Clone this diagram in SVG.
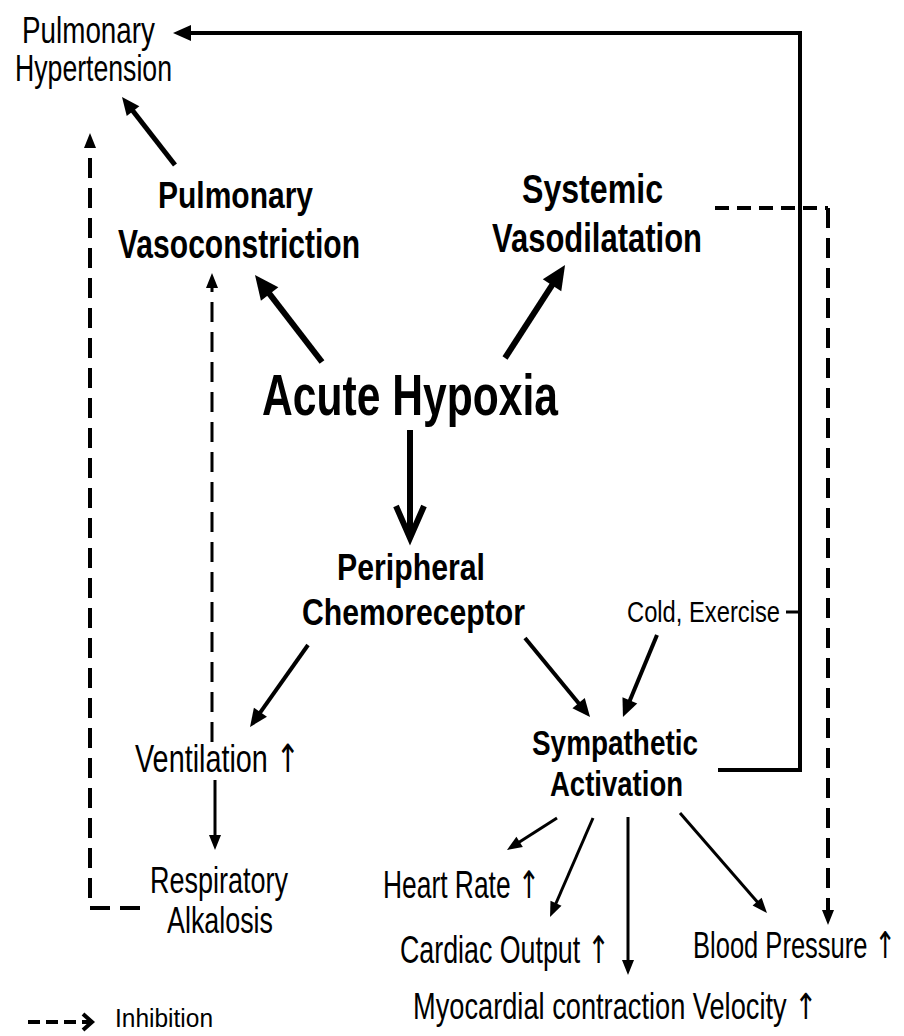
<svg xmlns="http://www.w3.org/2000/svg" width="904" height="1036" viewBox="0 0 904 1036">
<style>
text{font-family:"Liberation Sans",Arial,sans-serif;fill:#000}
.b{font-weight:bold}
.n{font-weight:normal}
.up{font-family:"DejaVu Sans",sans-serif;font-weight:normal;fill:#000}
.ln{fill:none;stroke:#000;stroke-linecap:butt;stroke-linejoin:miter}
.t6{stroke-width:6}
.t5{stroke-width:5}
.t4{stroke-width:4}
.t3{stroke-width:3}
.d{stroke-dasharray:20 10}
.dh{stroke-dasharray:14 8}
</style>
<defs>
<marker id="big" markerUnits="userSpaceOnUse" viewBox="0 0 24 22" markerWidth="24" markerHeight="22" refX="4" refY="11" orient="auto" overflow="visible"><path d="M0,0 L24,11 L0,22 z" fill="#000"/></marker>
<marker id="med" markerUnits="userSpaceOnUse" viewBox="0 0 18 16" markerWidth="18" markerHeight="16" refX="3" refY="8" orient="auto" overflow="visible"><path d="M0,0 L18,8 L0,16 z" fill="#000"/></marker>
<marker id="sm" markerUnits="userSpaceOnUse" viewBox="0 0 15 12" markerWidth="15" markerHeight="12" refX="3" refY="6" orient="auto" overflow="visible"><path d="M0,0 L15,6 L0,12 z" fill="#000"/></marker>
<marker id="chev" markerUnits="userSpaceOnUse" viewBox="0 0 36 32" markerWidth="36" markerHeight="32" refX="34" refY="16" orient="auto" overflow="visible"><path d="M2,2 L34,16 L2,30" fill="none" stroke="#000" stroke-width="6"/></marker>
<marker id="chevs" markerUnits="userSpaceOnUse" viewBox="0 0 12 18" markerWidth="12" markerHeight="18" refX="10" refY="9" orient="auto" overflow="visible"><path d="M1,1 L10,9 L1,17" fill="none" stroke="#000" stroke-width="4"/></marker>
</defs>
<rect width="904" height="1036" fill="#fff"/>

<g id="connectors">
  <path class="ln t6" d="M322,362 L267.2,290.8" marker-end="url(#big)"/>
  <path class="ln t6" d="M505,358 L554.2,281.8" marker-end="url(#big)"/>
  <path class="ln t6" d="M410,430 L410,538" marker-end="url(#chev)"/>
  <path class="ln t5" d="M175,165 L131.2,108.8" marker-end="url(#med)"/>
  <path class="ln t4" d="M308,645 L258.7,714.7" marker-end="url(#med)"/>
  <path class="ln t4" d="M525,638 L580.5,705.4" marker-end="url(#med)"/>
  <path class="ln t4" d="M657,635 L628.7,703.2" marker-end="url(#med)"/>
  <path class="ln t3" d="M215,780 L215,838" marker-end="url(#sm)"/>
  <path class="ln t3" d="M557,818 L517.1,843.5" marker-end="url(#sm)"/>
  <path class="ln t3" d="M593,818 L554.8,906" marker-end="url(#sm)"/>
  <path class="ln t3" d="M628,817 L628,963" marker-end="url(#sm)"/>
  <path class="ln t3" d="M680,813 L759.1,903.9" marker-end="url(#sm)"/>
  <path class="ln t4" d="M718,770 L800,770 L800,33 L188,33" marker-end="url(#med)"/>
  <path class="ln t3" d="M786,612 L800,612"/>
  <path class="ln t4 dh" d="M715,208 L828,208"/>
  <path class="ln t4 d" d="M828,208 L828,913" marker-end="url(#sm)"/>
  <path class="ln t4 d" d="M140,908 L90,908 L90,145" marker-end="url(#sm)"/>
  <path class="ln t3 d" d="M212,742 L212,285" marker-end="url(#sm)"/>
</g>

<g id="pulmonary-hypertension">
  <text class="n" x="22" y="43" font-size="36" textLength="133" lengthAdjust="spacingAndGlyphs">Pulmonary</text>
  <text class="n" x="15" y="81" font-size="36" textLength="157" lengthAdjust="spacingAndGlyphs">Hypertension</text>
</g>
<g id="pulmonary-vasoconstriction">
  <text class="b" x="158" y="208" font-size="37" textLength="155" lengthAdjust="spacingAndGlyphs">Pulmonary</text>
  <text class="b" x="118" y="258" font-size="40" textLength="242" lengthAdjust="spacingAndGlyphs">Vasoconstriction</text>
</g>
<g id="systemic-vasodilatation">
  <text class="b" x="522" y="203" font-size="40" textLength="141" lengthAdjust="spacingAndGlyphs">Systemic</text>
  <text class="b" x="492" y="252" font-size="40" textLength="210" lengthAdjust="spacingAndGlyphs">Vasodilatation</text>
</g>
<g id="acute-hypoxia">
  <text class="b" x="262" y="415" font-size="58" textLength="296" lengthAdjust="spacingAndGlyphs">Acute Hypoxia</text>
</g>
<g id="peripheral-chemoreceptor">
  <text class="b" x="337" y="580" font-size="37" textLength="148" lengthAdjust="spacingAndGlyphs">Peripheral</text>
  <text class="b" x="302" y="625" font-size="37" textLength="223" lengthAdjust="spacingAndGlyphs">Chemoreceptor</text>
</g>
<g id="cold-exercise">
  <text class="n" x="627" y="622" font-size="30" textLength="153" lengthAdjust="spacingAndGlyphs">Cold, Exercise</text>
</g>
<g id="ventilation">
  <text class="n" x="135" y="772" font-size="39" textLength="165" lengthAdjust="spacingAndGlyphs">Ventilation <tspan class="up">↑</tspan></text>
</g>
<g id="respiratory-alkalosis">
  <text class="n" x="150" y="893" font-size="36" textLength="138" lengthAdjust="spacingAndGlyphs">Respiratory</text>
  <text class="n" x="167" y="933" font-size="37" textLength="106" lengthAdjust="spacingAndGlyphs">Alkalosis</text>
</g>
<g id="sympathetic-activation">
  <text class="b" x="532" y="755" font-size="35" textLength="166" lengthAdjust="spacingAndGlyphs">Sympathetic</text>
  <text class="b" x="550" y="796" font-size="35" textLength="133" lengthAdjust="spacingAndGlyphs">Activation</text>
</g>
<g id="heart-rate">
  <text class="n" x="383" y="898" font-size="38" textLength="157" lengthAdjust="spacingAndGlyphs">Heart Rate <tspan class="up">↑</tspan></text>
</g>
<g id="cardiac-output">
  <text class="n" x="400" y="963" font-size="38" textLength="210" lengthAdjust="spacingAndGlyphs">Cardiac Output <tspan class="up">↑</tspan></text>
</g>
<g id="blood-pressure">
  <text class="n" x="693" y="958" font-size="37" textLength="203" lengthAdjust="spacingAndGlyphs">Blood Pressure <tspan class="up">↑</tspan></text>
</g>
<g id="myocardial-velocity">
  <text class="n" x="413" y="1019" font-size="36" textLength="404" lengthAdjust="spacingAndGlyphs">Myocardial contraction Velocity <tspan class="up">↑</tspan></text>
</g>
<g id="legend">
  <path class="ln t4" d="M28,1022 L92,1022" stroke-dasharray="12 6" marker-end="url(#chevs)"/>
  <text class="n" x="115" y="1027" font-size="25" textLength="98" lengthAdjust="spacingAndGlyphs">Inhibition</text>
</g>
</svg>
